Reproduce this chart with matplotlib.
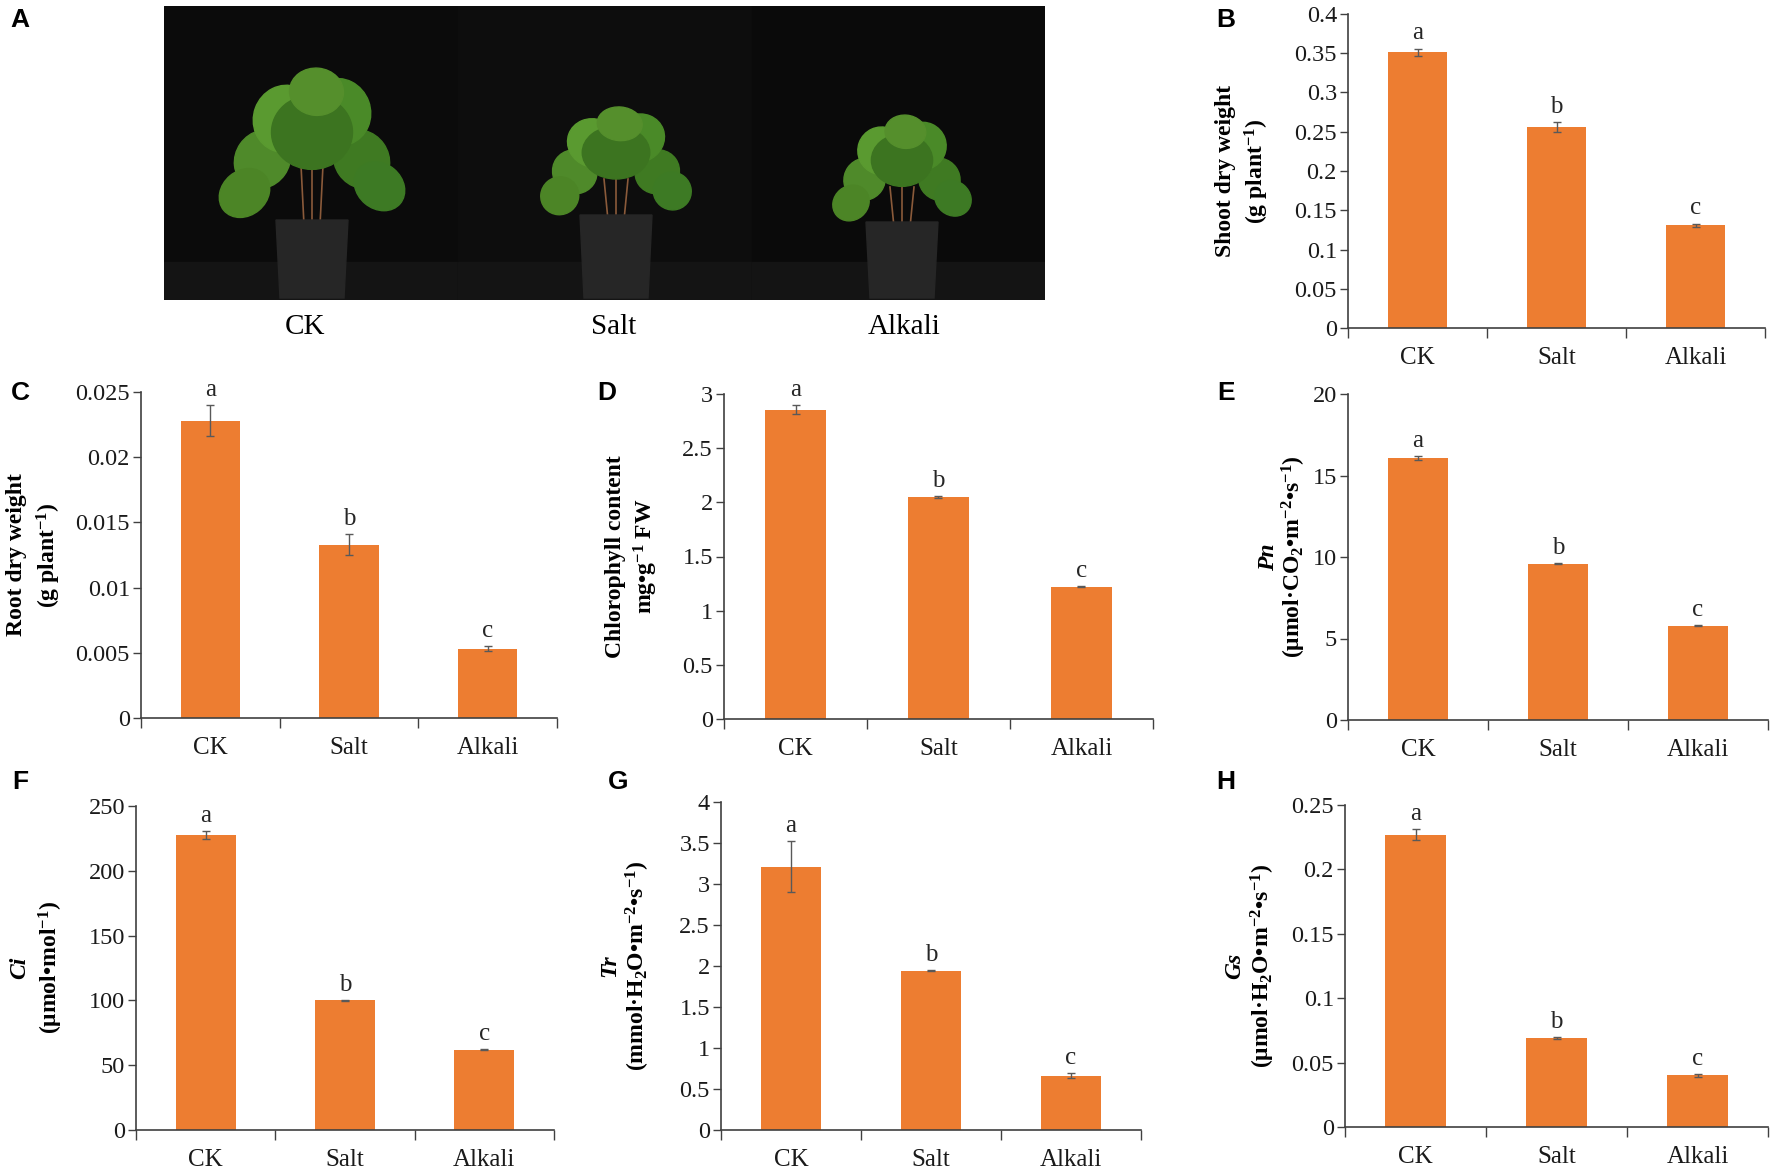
import numpy as np
import matplotlib
matplotlib.use('Agg')
import matplotlib.pyplot as plt
from matplotlib.patches import Rectangle, Ellipse, Polygon
from matplotlib.ticker import FuncFormatter

plt.rcParams['font.family'] = ['Liberation Serif', 'DejaVu Serif']
plt.rcParams['mathtext.fontset'] = 'custom'
plt.rcParams['mathtext.rm'] = 'Liberation Serif'
plt.rcParams['mathtext.it'] = 'Liberation Serif:italic'
plt.rcParams['mathtext.bf'] = 'Liberation Serif:bold'

W, H = 1772, 1176
DPI = 100

groups = ['CK', 'Salt', 'Alkali']
letters = ['a', 'b', 'c']

# values (mean, error)
shoot_dw = [0.351, 0.256, 0.131]
shoot_dw_err = [0.005, 0.006, 0.002]
root_dw = [0.0228, 0.0133, 0.0053]
root_dw_err = [0.0012, 0.0008, 0.0002]
chl = [2.855, 2.05, 1.22]
chl_err = [0.04, 0.01, 0.005]
pn = [16.05, 9.6, 5.78]
pn_err = [0.12, 0.05, 0.03]
ci = [227.5, 100.0, 62.0]
ci_err = [3.3, 0.4, 0.5]
tr = [3.21, 1.945, 0.66]
tr_err = [0.31, 0.01, 0.03]
gs = [0.227, 0.069, 0.040]
gs_err = [0.004, 0.001, 0.001]

BAR = '#ED7D31'
AXC = '#404040'


def px_rect(left, top, right, bottom):
    return [left / W, 1 - bottom / H, (right - left) / W, (bottom - top) / H]


def bar_panel(rect, vals, errs, ymax, ystep, line1, line2, off1, off2, italic1=False):
    ax = fig.add_axes(px_rect(*rect))
    x = np.arange(len(groups))
    ax.bar(x, vals, width=0.43, color=BAR, zorder=2)
    ax.errorbar(x, vals, yerr=errs, fmt='none', ecolor='#595959',
                elinewidth=1.0, capsize=3, capthick=1.0, zorder=3)
    for xi, v, e, lt in zip(x, vals, errs, letters):
        ax.annotate(lt, (xi, v + e), xytext=(0, 3), textcoords='offset points',
                    ha='center', va='bottom', fontsize=18, color='#262626')
    ax.set_xlim(-0.5, 2.5)
    ax.set_ylim(0, ymax)
    ax.set_yticks(np.arange(0, ymax + ystep / 2, ystep))
    ax.yaxis.set_major_formatter(FuncFormatter(lambda v, p: '{:g}'.format(round(v, 6))))
    ax.set_xticks(x)
    ax.set_xticklabels(groups)
    ax.set_xticks([-0.5, 0.5, 1.5, 2.5], minor=True)
    ax.tick_params(axis='x', which='major', length=0, pad=14, labelsize=18,
                   labelcolor='#1a1a1a')
    ax.tick_params(axis='x', which='minor', length=7, width=1.0, color=AXC,
                   direction='out')
    ax.tick_params(axis='y', length=6, width=1.0, color=AXC, direction='out',
                   pad=2, labelsize=17.5, labelcolor='#1a1a1a')
    for s in ['top', 'right']:
        ax.spines[s].set_visible(False)
    for s in ['left', 'bottom']:
        ax.spines[s].set_color(AXC)
        ax.spines[s].set_linewidth(1.2)
    ax.annotate(line1, (0, 0.5), xycoords='axes fraction',
                xytext=(-off1 * 0.72, 0), textcoords='offset points',
                rotation=90, ha='center', va='center', fontsize=17,
                fontweight='bold', fontstyle='italic' if italic1 else 'normal')
    ax.annotate(line2, (0, 0.5), xycoords='axes fraction',
                xytext=(-off2 * 0.72, 0), textcoords='offset points',
                rotation=90, ha='center', va='center', fontsize=17,
                fontweight='bold')
    return ax


fig = plt.figure(figsize=(W / DPI, H / DPI), dpi=DPI)

# panel A: photograph stand-in
axA = fig.add_axes(px_rect(164, 6, 1045, 300))
axA.set_xlim(164, 1045)
axA.set_ylim(300, 6)
axA.axis('off')
for x0, tone in [(164, '#0b0b0b'), (458, '#0d0d0d'), (752, '#0a0a0a')]:
    axA.add_patch(Rectangle((x0, 6), 294, 294, color=tone, zorder=0))
    axA.add_patch(Rectangle((x0, 262), 294, 38, color='#141414', zorder=0))
plants = [
    (312, 220, 85, 90),
    (616, 215, 119, 75),
    (902, 222, 127, 68),
]
for cx, pot_top, leaf_top, half_w in plants:
    pot_half = 36
    axA.add_patch(Polygon([(cx - pot_half, pot_top), (cx + pot_half, pot_top),
                           (cx + pot_half - 4, 298), (cx - pot_half + 4, 298)],
                          closed=True, color='#262626', zorder=2))
    for dx in (-8, 0, 8):
        axA.plot([cx + dx, cx + dx * 1.5], [pot_top + 5, leaf_top + 60],
                 color='#8a5a3a', lw=1.2, zorder=1)
    leaf_h = pot_top - leaf_top
    for lx, ly, lw_, lh, ang, c in [
        (-0.55, 0.55, 0.3, 0.45, 35, '#4f8a2a'),
        (0.55, 0.55, 0.3, 0.45, -35, '#3f7a22'),
        (-0.3, 0.25, 0.35, 0.5, 20, '#5a9a30'),
        (0.3, 0.2, 0.35, 0.5, -20, '#4a8a28'),
        (0.0, 0.35, 0.45, 0.55, 0, '#3c7420'),
        (-0.75, 0.8, 0.25, 0.4, 50, '#4c8526'),
        (0.75, 0.75, 0.25, 0.4, -50, '#3d7a24'),
        (0.05, 0.05, 0.3, 0.35, 5, '#558f2c'),
    ]:
        axA.add_patch(Ellipse((cx + lx * half_w, leaf_top + ly * leaf_h),
                              lw_ * half_w * 2, lh * leaf_h, angle=ang,
                              color=c, zorder=3))

for gx, g in zip([305, 614, 904], groups):
    fig.text(gx / W, 1 - 327 / H, g, ha='center', va='center', fontsize=21)

bar_panel((1348, 14, 1765, 328), shoot_dw, shoot_dw_err, 0.4, 0.05,
          'Shoot dry weight', '(g plant$^{\\mathbf{-1}}$)', 122, 91)
bar_panel((141, 392, 557, 718), root_dw, root_dw_err, 0.025, 0.005,
          'Root dry weight', '(g plant$^{\\mathbf{-1}}$)', 124, 92)
bar_panel((724, 394, 1153, 719), chl, chl_err, 3, 0.5,
          'Chlorophyll content', 'mg\u2022g$^{\\mathbf{-1}}$ FW', 108, 78)
bar_panel((1348, 394, 1768, 720), pn, pn_err, 20, 5,
          'Pn', '(\u03bcmol\u00b7CO$_{\\mathbf{2}}$\u2022m$^{\\mathbf{-2}}$\u2022s$^{\\mathbf{-1}}$)',
          79, 54, italic1=True)
bar_panel((136, 806, 554, 1130), ci, ci_err, 250, 50,
          'Ci', '(\u03bcmol\u2022mol$^{\\mathbf{-1}}$)', 116, 85, italic1=True)
bar_panel((721, 802, 1141, 1130), tr, tr_err, 4, 0.5,
          'Tr', '(mmol\u00b7H$_{\\mathbf{2}}$O\u2022m$^{\\mathbf{-2}}$\u2022s$^{\\mathbf{-1}}$)',
          111, 83, italic1=True)
bar_panel((1345, 805, 1768, 1127), gs, gs_err, 0.25, 0.05,
          'Gs', '(\u03bcmol\u00b7H$_{\\mathbf{2}}$O\u2022m$^{\\mathbf{-2}}$\u2022s$^{\\mathbf{-1}}$)',
          110, 82, italic1=True)

for lab, px, py in [('A', 20, 20), ('B', 1226, 20), ('C', 20, 393), ('D', 607, 393),
                    ('E', 1226, 393), ('F', 20, 782), ('G', 618, 782), ('H', 1226, 782)]:
    fig.text(px / W, 1 - py / H, lab, ha='center', va='center', fontsize=19,
             fontweight='bold', family=['Liberation Sans', 'DejaVu Sans'])

fig.savefig('out.png', dpi=DPI)
